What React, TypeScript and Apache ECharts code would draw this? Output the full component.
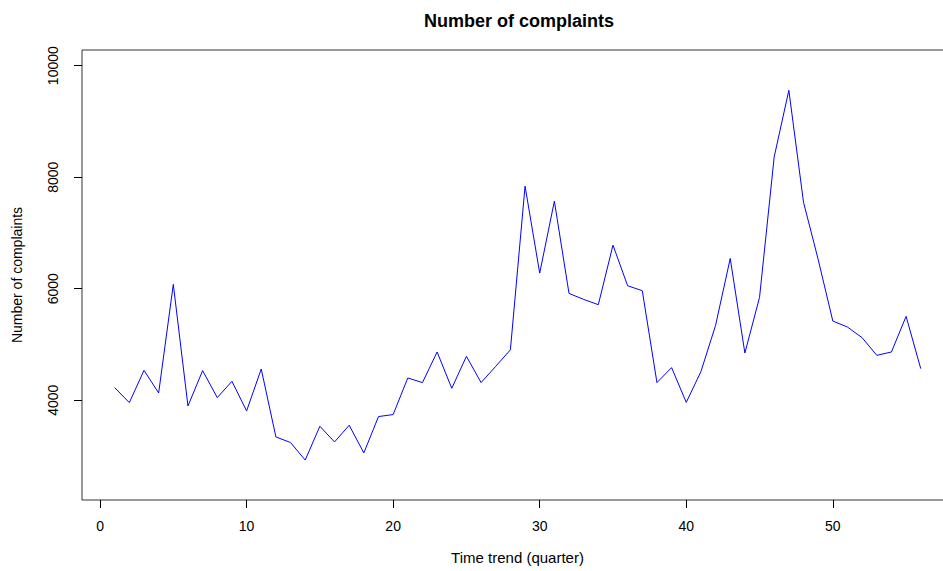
import React, { useEffect, useRef } from "react";
import * as echarts from "echarts";

const quarters: number[] = Array.from({ length: 56 }, (_, i) => i + 1);
const complaints: number[] = [
  4227, 3958, 4537, 4131, 6078, 3898, 4532, 4048, 4340, 3809,
  4561, 3343, 3242, 2928, 3534, 3253, 3552, 3056, 3708, 3744,
  4400, 4317, 4866, 4215, 4788, 4317, 4609, 4905, 7839, 6280,
  7570, 5916, 5809, 5714, 6782, 6054, 5965, 4317, 4586, 3962,
  4514, 5343, 6543, 4847, 5845, 8365, 9558, 7552, 6526, 5421,
  5313, 5122, 4806, 4866, 5505, 4567,
];
const xTicks: number[] = [0, 10, 20, 30, 40, 50];
const yTicks: number[] = [4000, 6000, 8000, 10000];

const FONT = "Liberation Sans, Arial, Helvetica, sans-serif";

export default function App() {
  const ref = useRef<HTMLDivElement>(null);
  useEffect(() => {
    if (!ref.current) return;
    const chart = echarts.init(ref.current, undefined, { renderer: "svg" });
    chart.setOption({
      animation: false,
      backgroundColor: "#ffffff",
      title: {
        text: "Number of complaints",
        left: 514,
        textAlign: "center",
        top: 7,
        textStyle: { fontFamily: FONT, fontSize: 18, fontWeight: "bold", color: "#000" },
      },
      grid: {
        left: 82,
        top: 50,
        width: 871,
        height: 450,
        containLabel: false,
        outerBoundsMode: "none",
        show: true,
        borderColor: "#333",
        borderWidth: 1,
        backgroundColor: "transparent",
      },
      xAxis: {
        type: "value",
        min: -1.23,
        max: 58.2,
        name: "Time trend (quarter)",
        nameLocation: "middle",
        nameGap: 50,
        nameTextStyle: { fontFamily: FONT, fontSize: 15, color: "#000" },
        axisLine: { show: false, onZero: false },
        splitLine: { show: false },
        axisTick: {
          show: true,
          length: 8,
          customValues: xTicks,
          lineStyle: { color: "#000", width: 1 },
        },
        axisLabel: {
          customValues: xTicks,
          margin: 19,
          fontFamily: FONT,
          fontSize: 14,
          color: "#000",
          formatter: (v: number) => String(v),
        },
      },
      yAxis: {
        type: "value",
        min: 2212,
        max: 10281,
        name: "Number of complaints",
        nameLocation: "middle",
        nameGap: 58,
        nameRotate: 90,
        nameTextStyle: { fontFamily: FONT, fontSize: 14, color: "#000" },
        axisLine: { show: false, onZero: false },
        splitLine: { show: false },
        axisTick: {
          show: true,
          length: 8,
          customValues: yTicks,
          lineStyle: { color: "#000", width: 1 },
        },
        axisLabel: {
          customValues: yTicks,
          rotate: 90,
          margin: 22,
          fontFamily: FONT,
          fontSize: 14,
          color: "#000",
          align: "center",
          verticalAlign: "bottom",
          formatter: (v: number) => String(v),
        },
      },
      series: [
        {
          type: "line",
          data: quarters.map((q, i) => [q, complaints[i]]),
          showSymbol: false,
          symbol: "none",
          lineStyle: { color: "#0000ff", width: 1 },
          silent: true,
        },
      ],
    });
    return () => chart.dispose();
  }, []);
  return <div ref={ref} style={{ width: 943, height: 571, position: "absolute", left: 0, top: 0 }} />;
}
